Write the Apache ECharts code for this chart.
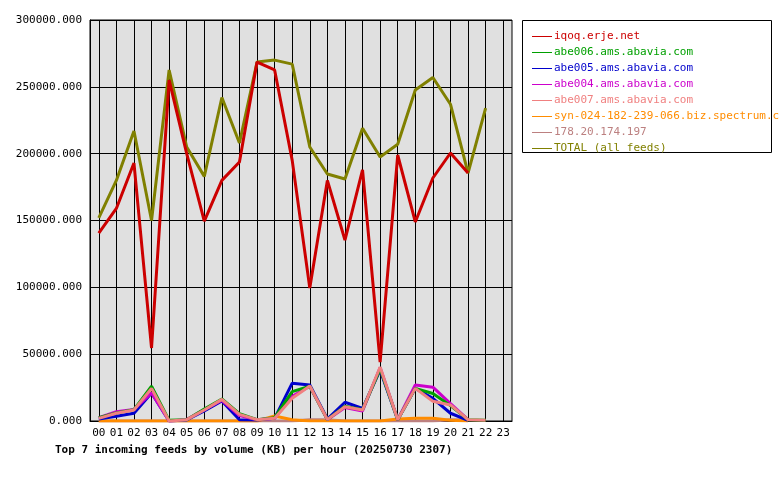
<!DOCTYPE html>
<html><head><meta charset="utf-8">
<script src="https://cdn.jsdelivr.net/npm/echarts@6/dist/echarts.min.js"></script>
<style>html,body{margin:0;padding:0;background:#fff}#c{width:780px;height:480px}</style>
</head><body><div id="c"></div>
<script>
const hours = ['00','01','02','03','04','05','06','07','08','09','10','11','12','13','14','15','16','17','18','19','20','21','22','23'];
const iqoq   = [140600,159000,193000,54600,255000,200000,149600,180000,193800,268500,262600,195000,99500,180000,135400,187800,44000,199000,148900,181800,200500,185500,null,null];
const abe006 = [2500,6000,8500,26000,500,1000,9000,16500,5500,1000,2500,22000,26000,1000,11000,8500,39000,1000,24400,20600,11500,1000,500,null];
const abe005 = [1500,3500,5800,21000,0,800,7500,15000,1000,800,2000,28300,27000,1500,14000,9500,38000,1000,24400,17000,5800,500,null,null];
const abe004 = [2500,7000,8700,21000,0,1000,8500,15500,4000,1000,2000,18500,26000,1000,10000,7500,40000,1000,27000,25300,13000,1000,null,null];
const abe007 = [2000,5800,8200,24400,0,1000,8200,16200,5000,1000,2000,17000,26200,1000,10700,8200,40400,1000,24400,14800,12000,1000,500,null];
const syn    = [0,0,0,0,0,0,0,0,0,0,3700,1000,0,0,0,0,0,1500,2000,2000,500,0,null,null];
const ip178  = [0,0,0,0,0,0,0,0,0,0,0,0,1000,1000,0,0,0,0,0,0,1000,1000,null,null];
const total  = [151900,180000,217000,150000,262600,205000,183000,242000,208000,268500,270000,267000,205000,184800,181000,219000,197500,207000,247600,257000,237000,185500,234000,null];
const yTicks = [0,50000,100000,150000,200000,250000,300000];

const seriesDef = [
  ['iqoq.erje.net', iqoq, '#cc0000'],
  ['abe006.ams.abavia.com', abe006, '#00a000'],
  ['abe005.ams.abavia.com', abe005, '#0000cc'],
  ['abe004.ams.abavia.com', abe004, '#cc00cc'],
  ['abe007.ams.abavia.com', abe007, '#f08080'],
  ['syn-024-182-239-066.biz.spectrum.com', syn, '#ff8c00'],
  ['178.20.174.197', ip178, '#bc8080'],
  ['TOTAL (all feeds)', total, '#808000']
];
const font = 'DejaVu Sans Mono';
const drawOrder = [7,0,6,5,2,3,1,4];
const series = drawOrder.map((i,k) => {
  const [name,data,color] = seriesDef[i];
  const s = {name, type:'line', data, symbol:'none', lineStyle:{width:3,color}, itemStyle:{color}, z: 2+k, animation:false};
  if (k===0) s.markLine = {silent:true, symbol:'none', label:{show:false}, lineStyle:{color:'#000',width:1,type:'solid'},
    data: hours.map(h=>({xAxis:h})), z:1};
  return s;
});
const chart = echarts.init(document.getElementById('c'));
chart.setOption({
  backgroundColor:'#fff',
  animation:false,
  grid:{left:90,right:268,top:20,bottom:59,show:true,backgroundColor:'#e0e0e0',borderColor:'#000',borderWidth:1},
  xAxis:{type:'category',data:hours,boundaryGap:true,
    axisLine:{lineStyle:{color:'#000'}},axisTick:{alignWithLabel:true,length:5,lineStyle:{color:'#000'}},
    axisLabel:{color:'#000',fontFamily:font,fontSize:11,margin:7},splitLine:{show:false}},
  yAxis:{type:'value',min:0,max:300000,interval:50000,
    axisLine:{show:true,lineStyle:{color:'#000'}},axisTick:{show:false},
    axisLabel:{color:'#000',fontFamily:font,fontSize:11,formatter:v=>v.toFixed(3)},
    splitLine:{lineStyle:{color:'#000',width:1}}},
  legend:{orient:'vertical',left:527,top:26,itemGap:5,itemWidth:20,itemHeight:8,icon:'path://M0,4L20,4L20,5L0,5Z',
    data:seriesDef.map(s=>({name:s[0],textStyle:{color:s[2]}})),
    textStyle:{fontFamily:font,fontSize:11,padding:[0,0,0,-3]}},
  graphic:[
    {type:'rect',shape:{x:522.5,y:20.5,width:249,height:132},style:{fill:'none',stroke:'#000',lineWidth:1},z:0},
    {type:'text',left:55,top:445,style:{text:'Top 7 incoming feeds by volume (KB) per hour (20250730 2307)',font:'bold 11px "DejaVu Sans Mono"',fill:'#000'}}
  ],
  series
});
</script></body></html>
